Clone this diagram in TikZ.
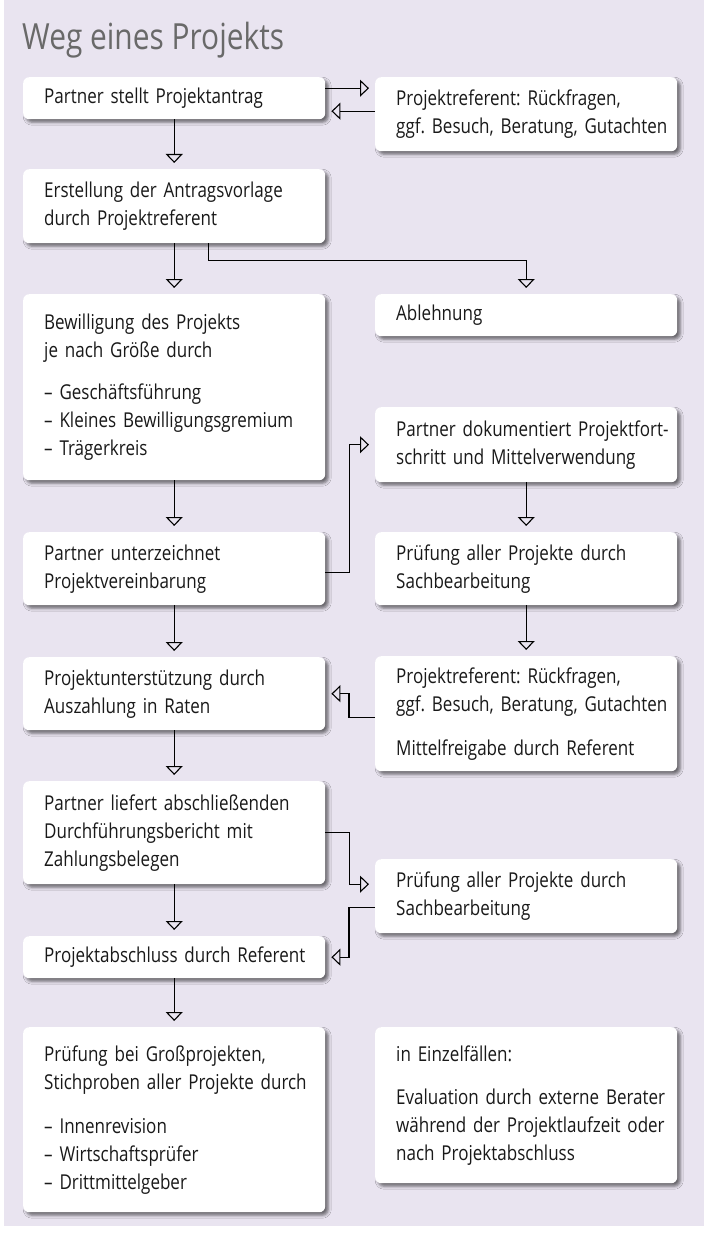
\documentclass[tikz,border=0pt]{standalone}
\usepackage{fontspec}
\setmainfont[FakeStretch=0.83]{Open Sans}
\usetikzlibrary{arrows.meta}
\usetikzlibrary{shadows.blur}
\definecolor{bglila}{RGB}{233,228,240}
\definecolor{titlegray}{RGB}{105,105,105}
\definecolor{textdark}{RGB}{25,25,25}
\frenchspacing

\begin{document}
\begin{tikzpicture}[x=1pt, y=-1pt,
        box/.style={fill=white, rounded corners=6pt, anchor=north west, text width=302pt, inner xsep=0pt, inner ysep=0pt, align=left, text=textdark, font=\fontsize{20.5}{28}\selectfont, execute at begin node={\leftskip=21pt\hyphenpenalty=10000}, blur shadow={shadow xshift=3pt, shadow yshift=-3pt, shadow blur radius=3pt, shadow opacity=55}},
        flow/.style={-{Triangle[open, width=17pt, length=9pt]}, line width=1.1pt, shorten >=6pt}]
        \useasboundingbox (0,0) rectangle (704,1233);
        \fill[bglila] (4,0) rectangle (704,1226);

        \node[anchor=base west, inner sep=0pt, text=titlegray, font=\fontsize{36}{40}\selectfont] (titel) at (22,50) {Weg eines Projekts};

        \node[box, minimum height=42pt] (antrag) at (23,77) {Partner stellt Projektantrag};
        \node[box, minimum height=74pt] (rueck1) at (375,77) {Projektreferent: Rückfragen,\\ ggf. Besuch, Beratung, Gutachten};
        \node[box, minimum height=74pt] (vorlage) at (23,169) {Erstellung der Antragsvorlage\\ durch Projektreferent};
        \node[box, minimum height=42pt] (ablehnung) at (375,294) {Ablehnung};
        \node[box, minimum height=186pt] (bewilligung) at (23,294) {Bewilligung des Projekts\\ je nach Größe durch\\[14pt] – Geschäftsführung\\ – Kleines Bewilligungsgremium\\ – Trägerkreis};
        \node[box, minimum height=75pt] (doku) at (375,407) {Partner dokumentiert Projektfort-\\schritt und Mittelverwendung};
        \node[box, minimum height=73pt] (vereinbarung) at (23,532) {Partner unterzeichnet\\ Projektvereinbarung};
        \node[box, minimum height=73pt] (pruefung1) at (375,532) {Prüfung aller Projekte durch\\ Sachbearbeitung};
        \node[box, minimum height=73pt] (raten) at (23,657) {Projektunterstützung durch\\ Auszahlung in Raten};
        \node[box, minimum height=115pt] (rueck2) at (375,656) {Projektreferent: Rückfragen,\\ ggf. Besuch, Beratung, Gutachten\\[16pt] Mittelfreigabe durch Referent};
        \node[box, minimum height=103pt] (bericht) at (23,781) {Partner liefert abschließenden\\ Durchführungsbericht mit\\ Zahlungsbelegen};
        \node[box, minimum height=74pt] (pruefung2) at (375,859) {Prüfung aller Projekte durch\\ Sachbearbeitung};
        \node[box, minimum height=42pt] (abschluss) at (23,936) {Projektabschluss durch Referent};
        \node[box, minimum height=185pt] (revision) at (23,1027) {Prüfung bei Großprojekten,\\ Stichproben aller Projekte durch\\[16pt] – Innenrevision\\ – Wirtschaftsprüfer\\ – Drittmittelgeber};
        \node[box, minimum height=156pt] (evaluation) at (375,1027) {in Einzelfällen:\\[15pt] Evaluation durch externe Berater\\ während der Projektlaufzeit oder\\ nach Projektabschluss};

        % Hauptweg links
        \draw[flow] (antrag.south) -- (vorlage.north);
        \draw[flow] (vorlage.south) -- (bewilligung.north);
        \draw[flow] (bewilligung.south) -- (vereinbarung.north);
        \draw[flow] (vereinbarung.south) -- (raten.north);
        \draw[flow] (raten.south) -- (bericht.north);
        \draw[flow] (bericht.south) -- (abschluss.north);
        \draw[flow] (abschluss.south) -- (revision.north);

        % Nebenwege rechts
        \draw[flow] ([yshift=10pt]antrag.east) -- ([yshift=10pt]antrag.east -| rueck1.west);
        \draw[flow] ([yshift=3pt]rueck1.west) -- ([yshift=3pt]rueck1.west -| antrag.east);
        \draw[flow] ([xshift=34pt]vorlage.south) -- ++(0,17) -| (ablehnung.north);
        \draw[flow] ([yshift=-4pt]vereinbarung.east) -- ++(24,0) |- (doku.west);
        \draw[flow] (doku.south) -- (pruefung1.north);
        \draw[flow] (pruefung1.south) -- (rueck2.north);
        \draw[flow] ([yshift=-4pt]rueck2.west) -- ++(-26,0) |- (raten.east);
        \draw[flow] (bericht.east) -- ++(24,0) |- ([yshift=12pt]pruefung2.west);
        \draw[flow] ([yshift=-11pt]pruefung2.west) -- ++(-26,0) |- (abschluss.east);
\end{tikzpicture}
\end{document}
